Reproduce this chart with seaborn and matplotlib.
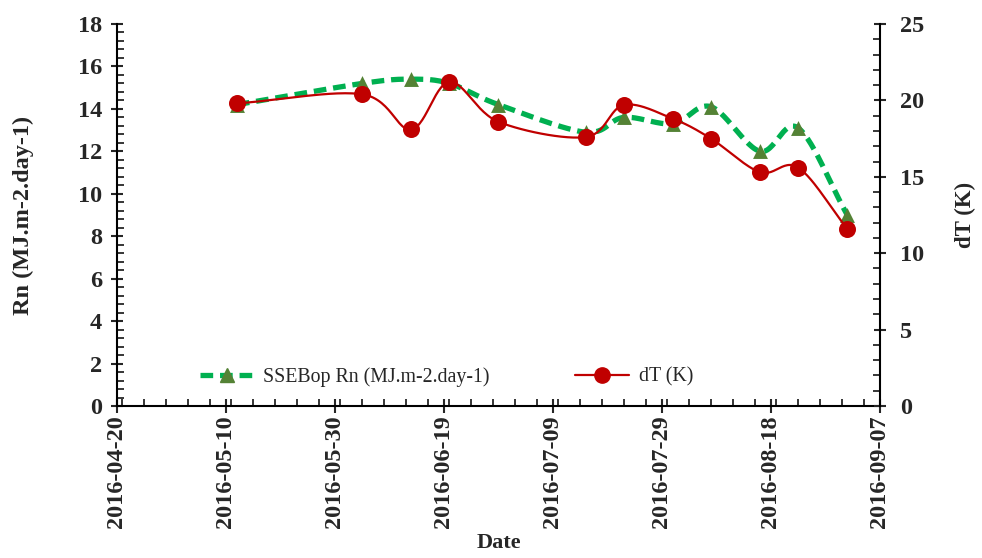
import numpy as np
import pandas as pd
import matplotlib
matplotlib.use("Agg")
import matplotlib.pyplot as plt
import matplotlib.dates as mdates
from matplotlib.lines import Line2D
from matplotlib.ticker import MultipleLocator
import seaborn as sns

dates = ["2016-05-12", "2016-06-04", "2016-06-13", "2016-06-20", "2016-06-29",
         "2016-07-15", "2016-07-22", "2016-07-31", "2016-08-07", "2016-08-16",
         "2016-08-23", "2016-09-01"]
rn = [14.2, 15.2, 15.4, 15.2, 14.2, 12.9, 13.6, 13.3, 14.1, 12.0, 13.1, 9.0]
dt = [19.8, 20.4, 18.1, 21.2, 18.6, 17.6, 19.7, 18.8, 17.5, 15.3, 15.6, 11.6]
rn_label = "SSEBop Rn (MJ.m-2.day-1)"
dt_label = "dT (K)"

sns.set_theme(style="ticks")
plt.rcParams["font.family"] = ["Liberation Serif", "DejaVu Serif"]

df = pd.DataFrame({"date": pd.to_datetime(dates), "rn": rn, "dt": dt})
xnum = mdates.date2num(df["date"])

def smooth(x, y, xr, yr, n=30):
    # Catmull-Rom spline in normalized coordinates (like Excel's smoothed line)
    px = (np.asarray(x) - xr[0]) / (xr[1] - xr[0])
    py = (np.asarray(y) - yr[0]) / (yr[1] - yr[0])
    P = np.column_stack([px, py])
    P = np.vstack([P[0] - (P[1] - P[0]), P, P[-1] + (P[-1] - P[-2])])
    out = []
    t = np.linspace(0, 1, n)[:, None]
    for i in range(1, len(P) - 2):
        p0, p1, p2, p3 = P[i - 1], P[i], P[i + 1], P[i + 2]
        seg = 0.5 * ((2 * p1) + (-p0 + p2) * t + (2 * p0 - 5 * p1 + 4 * p2 - p3) * t ** 2
                     + (-p0 + 3 * p1 - 3 * p2 + p3) * t ** 3)
        out.append(seg if i == 1 else seg[1:])
    S = np.vstack(out)
    return S[:, 0] * (xr[1] - xr[0]) + xr[0], S[:, 1] * (yr[1] - yr[0]) + yr[0]

xmin = mdates.date2num(pd.Timestamp("2016-04-20"))
xmax = mdates.date2num(pd.Timestamp("2016-09-07"))

fig = plt.figure(figsize=(9.82, 5.58), dpi=100)
ax = fig.add_axes([0.1191, 0.2724, 0.7770, 0.6846])
ax2 = ax.twinx()

green_line = "#00B050"
green_mk = "#548235"
red = "#C00000"

sx, sy = smooth(xnum, rn, (xmin, xmax), (0, 18))
sns.lineplot(x=mdates.num2date(sx), y=sy, ax=ax, color=green_line, lw=3.8,
             linestyle=(0, (2.4, 1.3)), sort=False, zorder=2)
sns.scatterplot(x=df["date"], y=df["rn"], ax=ax, marker="^", s=115, color=green_mk,
                edgecolor=green_mk, linewidth=0, zorder=3)

tx, ty = smooth(xnum, dt, (xmin, xmax), (0, 25))
sns.lineplot(x=mdates.num2date(tx), y=ty, ax=ax2, color=red, lw=1.6, sort=False, zorder=2)
sns.scatterplot(x=df["date"], y=df["dt"], ax=ax2, marker="o", s=150, color=red,
                edgecolor=red, linewidth=0, zorder=3)

ax.set_xlim(xmin, xmax)
ax.set_ylim(0, 18)
ax2.set_ylim(0, 25)
ticks = [xmin + 20 * i for i in range(8)]
ax.set_xticks(ticks)
ax.xaxis.set_major_formatter(mdates.DateFormatter("%Y-%m-%d"))
ax.xaxis.set_minor_locator(MultipleLocator(4))
ax.yaxis.set_major_locator(MultipleLocator(2))
ax.yaxis.set_minor_locator(MultipleLocator(0.4))
ax2.yaxis.set_major_locator(MultipleLocator(5))
ax2.yaxis.set_minor_locator(MultipleLocator(1))

for a in (ax, ax2):
    a.spines["top"].set_visible(False)
    for s in a.spines.values():
        s.set_linewidth(1.5)
        s.set_color("black")
ax.spines["right"].set_visible(False)
ax2.spines["left"].set_visible(False)
ax2.spines["bottom"].set_visible(False)

ax.tick_params(axis="y", which="major", direction="inout", length=9, width=1.5, pad=6, labelsize=17.5)
ax.tick_params(axis="y", which="minor", direction="in", length=5, width=1.3)
ax.tick_params(axis="x", which="major", direction="inout", length=10, width=1.5, pad=2,
               labelsize=17.5, rotation=90)
ax.tick_params(axis="x", which="minor", direction="in", length=5, width=1.3)
ax2.tick_params(axis="y", which="major", direction="inout", length=9, width=1.5, pad=10, labelsize=17.5)
ax2.tick_params(axis="y", which="minor", direction="in", length=5, width=1.3)
for lab in ax.get_xticklabels() + ax.get_yticklabels() + ax2.get_yticklabels():
    lab.set_fontweight("bold")

ax.set_xlabel("Date", fontsize=16, fontweight="bold", labelpad=3)
ax.set_ylabel("Rn (MJ.m-2.day-1)", fontsize=17.5, fontweight="bold", labelpad=32)
ax2.set_ylabel("dT (K)", fontsize=16.5, fontweight="bold", labelpad=22)

handles = [
    Line2D([], [], color=green_line, lw=3.8, linestyle=(0, (2.4, 1.3)), marker="^",
           markersize=10, markerfacecolor=green_mk, markeredgecolor=green_mk),
    Line2D([], [], color=red, lw=1.6, marker="o", markersize=11,
           markerfacecolor=red, markeredgecolor=red),
]
ax2.legend(handles, [rn_label, dt_label], loc="center", bbox_to_anchor=(0.432, 0.076),
           ncol=2, frameon=False, prop={"size": 14.3, "family": "Liberation Serif"},
           handlelength=2.7, columnspacing=4.3, handletextpad=0.5)

fig.savefig("out.png", dpi=100)
